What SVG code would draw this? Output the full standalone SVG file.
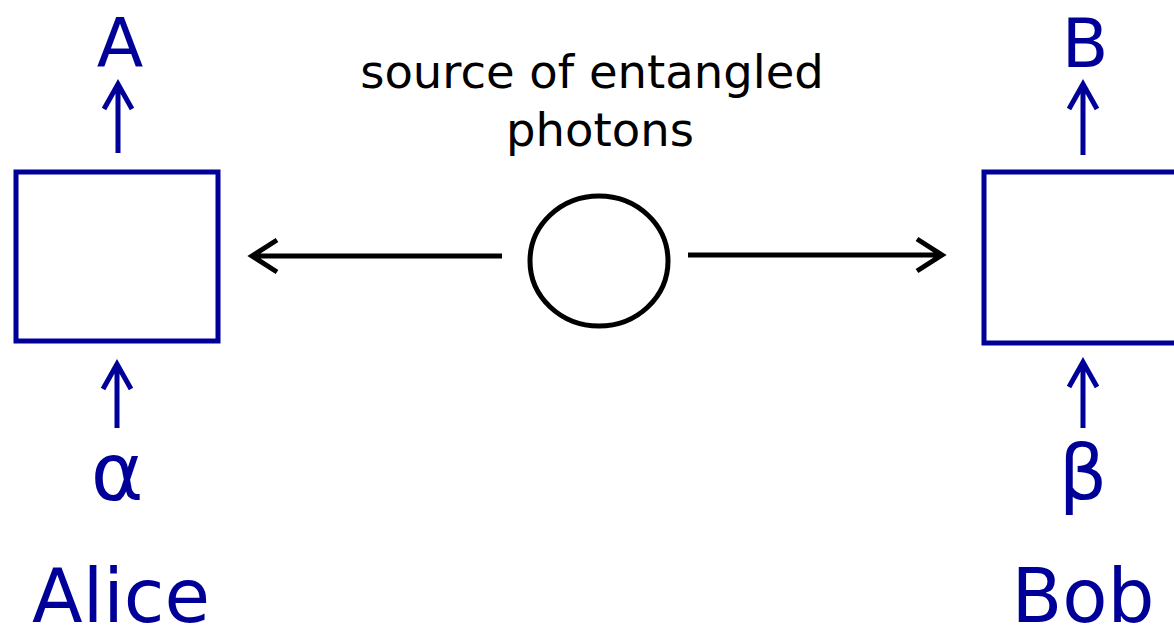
<svg xmlns="http://www.w3.org/2000/svg" width="1174" height="629" viewBox="0 0 1174 629">
<style>
.blue{fill:none;stroke:#000099;stroke-width:5}
.blk{fill:none;stroke:#000;stroke-width:5}
.bt{font-family:"DejaVu Sans",sans-serif;fill:#000099;text-anchor:middle}
.kt{font-family:"DejaVu Sans",sans-serif;fill:#000;text-anchor:middle;font-size:46.5px}
</style>
<rect width="1174" height="629" fill="#fff"/>
<g id="alice">
<rect class="blue" x="16" y="172" width="202" height="169"/>
<text class="bt" x="120" y="67" font-size="68">A</text>
<text class="bt" x="117" y="500" font-size="80">α</text>
<text class="bt" x="121" y="622" font-size="74">Alice</text>
</g>
<g id="bob">
<rect class="blue" x="984" y="172" width="202" height="171"/>
<text class="bt" x="1085" y="67" font-size="68">B</text>
<text class="bt" x="1083" y="499" font-size="76">β</text>
<text class="bt" x="1083" y="622" font-size="74">Bob</text>
</g>
<g id="source">
<ellipse class="blk" cx="599" cy="261" rx="69" ry="65"/>
<text class="kt" x="592" y="88">source of entangled</text>
<text class="kt" x="600" y="146">photons</text>
</g>
<g id="connectors">
<path class="blue" d="M118 153V84M104 109L118 84L132 109"/>
<path class="blue" d="M117 428V364M103 389L117 364L131 389"/>
<path class="blue" d="M1083 155V84M1069 109L1083 84L1097 109"/>
<path class="blue" d="M1083 428V362M1069 387L1083 362L1097 387"/>
<path class="blk" d="M502 256H252M277 240L252 256L277 272"/>
<path class="blk" d="M688 255H942M917 239L942 255L917 271"/>
</g>
</svg>
